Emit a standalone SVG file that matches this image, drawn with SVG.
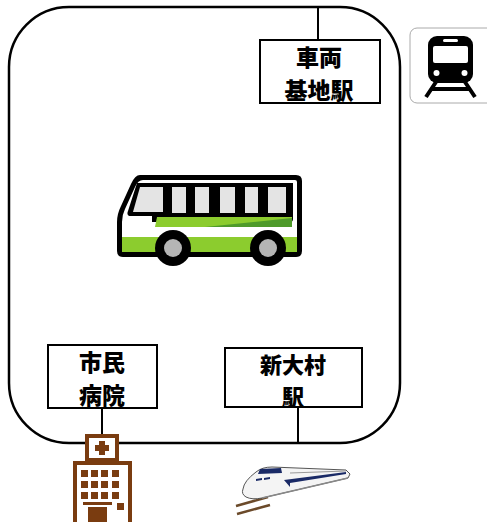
<svg xmlns="http://www.w3.org/2000/svg" width="487" height="522" viewBox="0 0 487 522">
  <style>
    .box { fill: #ffffff; stroke: #000000; stroke-width: 2; }
    .lbl { font-family: "Noto Sans CJK JP", "Noto Sans", sans-serif; font-weight: 900; font-size: 23px; fill: #000000; text-anchor: middle; }
    .sm { font-size: 22px; }
    .wire { stroke: #000000; stroke-width: 2; fill: none; }
  </style>
  <rect width="487" height="522" fill="#ffffff"/>

  <!-- route loop -->
  <rect id="loop" x="9" y="7" width="391" height="436" rx="60" ry="60" fill="none" stroke="#000" stroke-width="2.5"/>

  <!-- connectors -->
  <g id="connectors">
    <line class="wire" x1="318" y1="7" x2="318" y2="40"/>
    <line class="wire" x1="102" y1="408" x2="102" y2="436"/>
    <line class="wire" x1="298" y1="407" x2="298" y2="443"/>
  </g>

  <!-- depot station -->
  <g id="depot">
    <rect class="box" x="260" y="40" width="120" height="63"/>
    <text class="lbl" x="319" y="66">車両</text>
    <text class="lbl" x="319" y="99">基地駅</text>
  </g>

  <!-- train pictogram -->
  <g id="train-sign">
    <rect x="410" y="28" width="84" height="75" rx="7" fill="#fff" stroke="#aaaaaa" stroke-width="1"/>
    <rect x="428" y="36" width="45" height="47" rx="9" fill="#000"/>
    <rect x="433" y="46" width="35" height="17" rx="2" fill="#fff"/>
    <rect x="443" y="39" width="15" height="3" rx="1.5" fill="#fff"/>
    <circle cx="436.5" cy="73" r="3" fill="#fff"/>
    <circle cx="464.5" cy="73" r="3" fill="#fff"/>
    <path d="M436 82 L426 97 M465 82 L475 97 M432 89 L469 89" stroke="#000" stroke-width="4" fill="none"/>
  </g>

  <!-- bus -->
  <g id="bus">
    <path d="M140 175 L296 175 Q302 175 302 181 L302 251 Q302 257 296 257 L123 257 Q117 257 117 251 L117 222 Q117 214 121 206 L131 184 Q135 175 140 175 Z" fill="#000"/>
    <path d="M143 180 L295 180 Q297 180 297 182 L297 237 L122 237 L122 222 Q122 215 125 209 L135 187 Q138 180 143 180 Z" fill="#fff"/>
    <rect x="122" y="237" width="175" height="15" fill="#8ccc2e"/>
    <path d="M137 183 L293 183 L293 219 Q293 222 290 222 L152 222 L152 216 L131 216 Q126 216 128 211 Z" fill="#000"/>
    <path d="M140 187 L163 187 L163 212 L133 212 Z" fill="#e4e4e4"/>
    <rect x="172" y="187" width="14" height="26" fill="#e4e4e4"/>
    <rect x="195" y="187" width="14" height="26" fill="#e4e4e4"/>
    <rect x="220" y="187" width="15" height="26" fill="#e4e4e4"/>
    <rect x="245" y="187" width="13" height="26" fill="#e4e4e4"/>
    <rect x="268" y="187" width="18" height="26" fill="#e4e4e4"/>
    <path d="M157 217 L292 217 L292 227 L155 227 Z" fill="#8ccc2e"/>
    <path d="M205 227 L292 218 L292 227 Z" fill="#4e9a2a"/>
    <circle cx="173" cy="248" r="18" fill="#000"/>
    <circle cx="173" cy="248" r="9" fill="#b5b5b5"/>
    <circle cx="268" cy="248" r="18" fill="#000"/>
    <circle cx="268" cy="248" r="9" fill="#b5b5b5"/>
  </g>

  <!-- city hospital -->
  <g id="hospital">
    <rect class="box" x="48" y="345" width="109" height="63"/>
    <text class="lbl" x="102" y="371">市民</text>
    <text class="lbl" x="102" y="404">病院</text>
  </g>

  <!-- hospital building icon -->
  <g id="hospital-icon" fill="#7a3c10">
    <rect x="85" y="434" width="34" height="27"/>
    <rect x="89" y="438" width="26" height="20" fill="#fff"/>
    <rect x="99" y="441" width="6" height="14"/>
    <rect x="95" y="445" width="14" height="6"/>
    <rect x="73" y="461" width="59" height="61"/>
    <rect x="77" y="465" width="51" height="57" fill="#fff"/>
    <g>
      <rect x="81" y="470" width="7" height="7"/><rect x="91" y="470" width="7" height="7"/><rect x="101" y="470" width="7" height="7"/><rect x="112" y="470" width="7" height="7"/>
      <rect x="81" y="481" width="7" height="7"/><rect x="91" y="481" width="7" height="7"/><rect x="101" y="481" width="7" height="7"/><rect x="112" y="481" width="7" height="7"/>
      <rect x="81" y="492" width="7" height="7"/><rect x="91" y="492" width="7" height="7"/><rect x="101" y="492" width="7" height="7"/><rect x="112" y="492" width="7" height="7"/>
      <rect x="83" y="502" width="29" height="3"/>
      <rect x="88" y="507" width="19" height="15"/>
      <rect x="117" y="503" width="7" height="7"/>
    </g>
  </g>

  <!-- Shin-Omura station -->
  <g id="shin-omura">
    <rect class="box" x="225" y="348" width="137" height="59"/>
    <text class="lbl sm" x="293" y="373">新大村</text>
    <text class="lbl sm" x="293" y="405">駅</text>
  </g>

  <!-- bullet train icon -->
  <g id="bullet-train">
    <path d="M236 506 L268 497 M237 514 L270 505" stroke="#6b4a2a" stroke-width="2.5" fill="none"/>
    <path d="M243 489 Q244 481 256 472 Q262 467 272 467 L346 470 L350 474 L348 478 L262 498 Q252 500 246 497 Q241 494 243 489 Z" fill="#f4f4f4" stroke="#555" stroke-width="1"/>
    <path d="M260 469 L281 468 L282 473 L258 474 Z" fill="#1a2a66"/>
    <path d="M256 479 L262 478 L262 480 L256 481 Z M264 478 L270 477 L270 479 L264 480 Z" fill="#1a2a66"/>
    <path d="M284 480 L346 472 L346 474 L290 483 L290 487 Z" fill="#1a2a66"/>
    <path d="M290 473 L346 471" stroke="#999" stroke-width="1" fill="none"/>
    <path d="M262 498 L348 478" stroke="#888" stroke-width="1.5" fill="none"/>
  </g>
</svg>
